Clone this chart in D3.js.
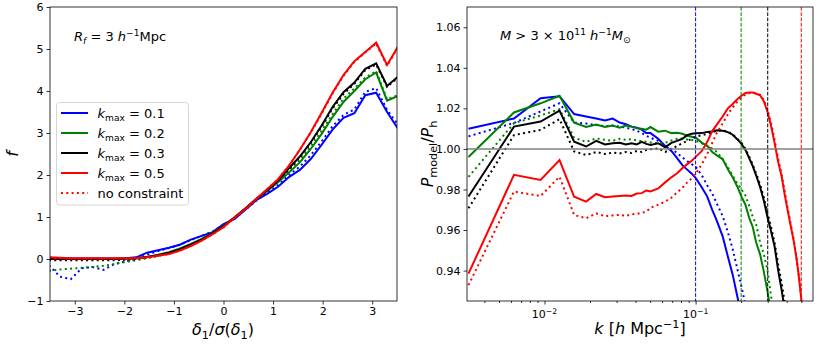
<!DOCTYPE html>
<html><head><meta charset="utf-8">
<script src="https://cdn.jsdelivr.net/npm/d3@7"></script>
<style>body{margin:0;background:#fff} svg{display:block} text{font-family:"DejaVu Sans",sans-serif}</style>
</head><body><svg id="c" width="830" height="346"></svg>
<script>
// ---------- left panel data ----------
const deltaBins = [-3.52,-3.30,-3.08,-2.86,-2.64,-2.42,-2.20,-1.98,-1.76,-1.54,-1.32,-1.10,-0.88,-0.66,-0.44,-0.22,0.00,0.22,0.44,0.66,0.88,1.10,1.32,1.54,1.76,1.98,2.20,2.42,2.64,2.86,3.08,3.30,3.52];
const fBlue   = [0.02,0.02,0.01,0.01,0.01,0.01,0.01,0.02,0.04,0.15,0.21,0.27,0.34,0.46,0.55,0.64,0.83,0.95,1.17,1.40,1.55,1.72,1.95,2.12,2.38,2.72,3.08,3.36,3.47,3.90,3.96,3.50,3.10];
const fBlueNC = [-0.15,-0.42,-0.48,-0.22,-0.19,-0.26,-0.12,-0.06,0.00,0.10,0.19,0.26,0.34,0.45,0.55,0.65,0.82,0.96,1.17,1.39,1.57,1.76,2.00,2.20,2.47,2.80,3.16,3.43,3.56,3.98,4.07,3.55,3.20];
const fGreen  = [0.0,0.0,0.0,0.0,0.0,0.0,0.0,0.01,0.02,0.05,0.10,0.16,0.25,0.36,0.48,0.62,0.79,0.99,1.20,1.43,1.62,1.83,2.06,2.30,2.62,2.98,3.38,3.74,4.00,4.28,4.44,3.77,3.88];
const fGreenNC= [-0.28,-0.25,-0.23,-0.21,-0.19,-0.16,-0.12,-0.07,-0.03,0.02,0.07,0.15,0.24,0.35,0.47,0.62,0.79,0.99,1.20,1.43,1.63,1.85,2.10,2.36,2.68,3.05,3.45,3.82,4.06,4.32,4.47,3.80,3.90];
const fBlack  = [0.0,0.0,0.0,0.0,0.0,0.0,0.0,0.01,0.02,0.05,0.09,0.15,0.23,0.34,0.46,0.61,0.78,0.99,1.20,1.43,1.64,1.87,2.16,2.44,2.78,3.18,3.62,3.97,4.20,4.53,4.66,4.12,4.34];
const fBlackNC= [-0.03,-0.03,-0.03,-0.03,-0.03,-0.03,-0.03,-0.02,0.00,0.04,0.08,0.14,0.22,0.33,0.45,0.60,0.77,0.98,1.19,1.42,1.63,1.86,2.14,2.42,2.76,3.15,3.58,3.93,4.17,4.50,4.63,4.10,4.32];
const fRed    = [0.04,0.03,0.02,0.02,0.02,0.02,0.02,0.02,0.02,0.04,0.08,0.12,0.20,0.31,0.44,0.59,0.76,0.98,1.19,1.43,1.66,1.90,2.22,2.60,3.02,3.48,3.96,4.38,4.71,4.93,5.15,4.62,5.06];
const fRedNC  = [0.02,0.01,0.01,0.01,0.01,0.01,0.01,0.01,0.02,0.04,0.08,0.12,0.20,0.31,0.44,0.59,0.76,0.98,1.19,1.43,1.66,1.90,2.22,2.60,3.01,3.46,3.94,4.36,4.69,4.92,5.13,4.60,5.04];

// ---------- right panel data ----------
const kVals = [0.00314,0.00628,0.00942,0.01257,0.01571,0.01885,0.02199,0.02513,0.02827,0.03142,0.03456,0.0377,0.04084,0.04398,0.04712,0.05027,0.05655,0.06283,0.06912,0.0754,0.08168,0.08796,0.09425,0.1005,0.1100,0.1194,0.1288,0.1382,0.1508,0.1634,0.1759,0.1885,0.2011,0.2136,0.2262,0.2388,0.2513,0.2670,0.2827,0.2985,0.3142,0.3330,0.3519,0.3707,0.3896,0.4084,0.4273,0.4461,0.4650,0.4838,0.5027,0.5215];
const rBlue   = [1.0100,1.0150,1.0250,1.0260,1.0172,1.0160,1.0150,1.0140,1.0150,1.0130,1.0122,1.0110,1.0105,1.0095,1.0078,1.0078,1.0050,1.0015,0.9990,0.9955,0.9920,0.9898,0.9878,0.9855,0.9810,0.9765,0.9700,0.9645,0.9570,0.9470,0.9380,0.9275,0.9180];
const rBlueNC = [1.0062,1.0128,1.0185,1.0225,1.0130,1.0125,1.0118,1.0112,1.0115,1.0110,1.0105,1.0098,1.0090,1.0078,1.0065,1.0055,1.0040,1.0018,1.0000,0.9980,0.9958,0.9940,0.9925,0.9910,0.9870,0.9820,0.9780,0.9730,0.9670,0.9590,0.9505,0.9410,0.9320,0.9230];
const rGreen  = [0.9960,1.0180,1.0225,1.0262,1.0130,1.0108,1.0120,1.0108,1.0115,1.0105,1.0115,1.0110,1.0102,1.0100,1.0095,1.0108,1.0085,1.0090,1.0078,1.0080,1.0075,1.0065,1.0060,1.0055,1.0030,1.0015,0.9985,0.9968,0.9950,0.9900,0.9860,0.9815,0.9765,0.9725,0.9660,0.9615,0.9540,0.9480,0.9395,0.9300,0.9200];
const rGreenNC= [0.9862,1.0127,1.0165,1.0196,1.0055,1.0035,1.0052,1.0045,1.0040,1.0050,1.0045,1.0048,1.0042,1.0038,1.0035,1.0032,1.0028,1.0030,1.0042,1.0050,1.0052,1.0046,1.0044,1.0040,1.0028,1.0015,1.0002,0.9985,0.9950,0.9910,0.9868,0.9830,0.9800,0.9770,0.9720,0.9665,0.9628,0.9540,0.9480,0.9405,0.9285,0.9170];
const rBlack  = [0.9765,1.0110,1.0135,1.0189,1.0036,1.0012,1.0040,1.0022,1.0028,1.0030,1.0022,1.0028,1.0022,1.0035,1.0025,1.0020,1.0028,1.0008,1.0030,1.0040,1.0050,1.0068,1.0075,1.0077,1.0078,1.0084,1.0086,1.0092,1.0090,1.0083,1.0070,1.0048,1.0025,0.9995,0.9955,0.9915,0.9870,0.9812,0.9745,0.9665,0.9600,0.9520,0.9400,0.9305,0.9200];
const rBlackNC= [0.9707,1.0068,1.0094,1.0147,0.9988,0.9970,0.9985,0.9975,0.9982,0.9978,0.9985,0.9980,0.9990,0.9985,0.9995,0.9998,1.0003,0.9985,0.9998,1.0015,1.0028,1.0040,1.0050,1.0060,1.0068,1.0075,1.0082,1.0090,1.0092,1.0085,1.0072,1.0050,1.0030,1.0000,0.9962,0.9922,0.9880,0.9825,0.9760,0.9685,0.9620,0.9540,0.9430,0.9340,0.9240,0.9150];
const rRed    = [0.9385,0.9872,0.9847,0.9945,0.9764,0.9740,0.9778,0.9762,0.9765,0.9768,0.9770,0.9768,0.9780,0.9782,0.9795,0.9790,0.9805,0.9835,0.9860,0.9880,0.9905,0.9925,0.9942,0.9962,0.9990,1.0035,1.0088,1.0120,1.0160,1.0200,1.0222,1.0245,1.0262,1.0276,1.0278,1.0278,1.0272,1.0265,1.0235,1.0185,1.0120,1.0030,0.9935,0.9865,0.9770,0.9690,0.9615,0.9545,0.9460,0.9360,0.9245,0.9130];
const rRedNC  = [0.9328,0.9790,0.9768,0.9863,0.9674,0.9658,0.9682,0.9668,0.9672,0.9675,0.9670,0.9678,0.9680,0.9685,0.9690,0.9710,0.9725,0.9740,0.9760,0.9785,0.9808,0.9835,0.9855,0.9880,0.9925,0.9975,1.0030,1.0080,1.0125,1.0170,1.0205,1.0232,1.0255,1.0268,1.0275,1.0278,1.0275,1.0268,1.0240,1.0195,1.0135,1.0045,0.9950,0.9875,0.9785,0.9700,0.9625,0.9550,0.9465,0.9365,0.9250,0.9140];
const kMax = [0.1, 0.2, 0.3, 0.5];
const kMaxLabels = ["0.1", "0.2", "0.3", "0.5"];
const colors = ["#0000ff", "#008000", "#000000", "#ff0000"];

const leftTicksX = [-3,-2,-1,0,1,2,3];
const leftTicksY = [-1,0,1,2,3,4,5,6];
const rightTicksY = [0.94,0.96,0.98,1.00,1.02,1.04,1.06];
const rightMajorX = [0.01, 0.1];
const rightMajorLabels = [["10","\u22122"],["10","\u22121"]];
const rightMinorX = [0.004,0.005,0.006,0.007,0.008,0.009,0.02,0.03,0.04,0.05,0.06,0.07,0.08,0.09,0.2,0.3,0.4,0.5];

const svg = d3.select("#c");
const FONT = "DejaVu Sans";

function mtext(g, x, y, parts, size, anchor, rot) {
  const t = g.append("text").attr("x", x).attr("y", y).attr("font-size", size)
    .attr("text-anchor", anchor || "start").attr("fill", "#000");
  if (rot) t.attr("transform", `rotate(${rot},${x},${y})`);
  let cur = 0;
  parts.forEach(([s, f]) => {
    f = f || "";
    const shift = f.includes("b") ? size * 0.24 : f.includes("p") ? -size * 0.38 : 0;
    const ts = t.append("tspan").text(s).attr("dy", shift - cur);
    cur = shift;
    if (f.includes("i")) ts.attr("font-style", "italic");
    if (shift !== 0) ts.attr("font-size", size * 0.7);
  });
  return t;
}

// ---------- LEFT PANEL ----------
const L = {x0: 50, x1: 397, y0: 7, y1: 301};
const xL = d3.scaleLinear().domain([-3.5, 3.5]).range([L.x0, L.x1]);
const yL = d3.scaleLinear().domain([-1, 6]).range([L.y1, L.y0]);
svg.append("clipPath").attr("id", "clipL").append("rect")
  .attr("x", L.x0).attr("y", L.y0).attr("width", L.x1 - L.x0).attr("height", L.y1 - L.y0);
const gL = svg.append("g").attr("clip-path", "url(#clipL)");
const lineL = d3.line().x((d, i) => xL(deltaBins[i])).y(d => yL(d));
const leftSeries = [[fBlue, fBlueNC], [fGreen, fGreenNC], [fBlack, fBlackNC], [fRed, fRedNC]];
leftSeries.forEach(([s, nc], i) => {
  gL.append("path").attr("d", lineL(s)).attr("fill", "none").attr("stroke", colors[i]).attr("stroke-width", 2);
  gL.append("path").attr("d", lineL(nc)).attr("fill", "none").attr("stroke", colors[i]).attr("stroke-width", 2)
    .attr("stroke-dasharray", "2,3.3");
});

function styleAxis(g) {
  g.select(".domain").remove();
  g.selectAll("text").attr("font-size", 11).attr("font-family", FONT).attr("fill", "#000");
  g.selectAll("line").attr("stroke", "#000").attr("stroke-width", 0.8);
}
svg.append("g").attr("transform", `translate(0,${L.y1})`)
  .call(d3.axisBottom(xL).tickValues(leftTicksX).tickSize(3.5).tickPadding(3).tickFormat(d3.format("d"))).call(styleAxis);
svg.append("g").attr("transform", `translate(${L.x0},0)`)
  .call(d3.axisLeft(yL).tickValues(leftTicksY).tickSize(3.5).tickPadding(3).tickFormat(d3.format("d"))).call(styleAxis);
svg.append("rect").attr("x", L.x0).attr("y", L.y0).attr("width", L.x1 - L.x0).attr("height", L.y1 - L.y0)
  .attr("fill", "none").attr("stroke", "#000").attr("stroke-width", 0.8);

mtext(svg, 74, 41, [["R","i"],["f","ib"],[" = 3 "],["h","i"],["\u22121","p"],["Mpc"]], 13);
mtext(svg, 18, 154, [["f","i"]], 16, "middle", -90);
mtext(svg, 223, 335, [["\u03b4","i"],["1","b"],["/"],["\u03c3","i"],["("],["\u03b4","i"],["1","b"],[")"]], 16, "middle");

// legend
const leg = svg.append("g");
leg.append("rect").attr("x", 56.5).attr("y", 102.5).attr("width", 132).attr("height", 102.5).attr("rx", 3)
  .attr("fill", "#fff").attr("fill-opacity", 0.8).attr("stroke", "#cccccc").attr("stroke-width", 0.8);
kMaxLabels.forEach((lab, i) => {
  const yy = 113 + i * 20;
  leg.append("line").attr("x1", 61).attr("x2", 88).attr("y1", yy).attr("y2", yy)
    .attr("stroke", colors[i]).attr("stroke-width", 2);
  mtext(leg, 97.5, yy + 4.5, [["k","i"],["max","b"],[" = " + lab]], 13);
});
leg.append("line").attr("x1", 61).attr("x2", 88).attr("y1", 193).attr("y2", 193)
  .attr("stroke", colors[3]).attr("stroke-width", 2).attr("stroke-dasharray", "2,3.3");
mtext(leg, 97.5, 197.5, [["no constraint"]], 13);

// ---------- RIGHT PANEL ----------
const R = {x0: 467, x1: 813, y0: 7, y1: 301};
const xR = d3.scaleLog().domain([0.00307, 0.598]).range([R.x0, R.x1]);
const yR = d3.scaleLinear().domain([0.925, 1.07]).range([R.y1, R.y0]);
svg.append("clipPath").attr("id", "clipR").append("rect")
  .attr("x", R.x0).attr("y", R.y0).attr("width", R.x1 - R.x0).attr("height", R.y1 - R.y0);
const gR = svg.append("g").attr("clip-path", "url(#clipR)");
const lineR = d3.line().x((d, i) => xR(kVals[i])).y(d => yR(d));
const rightSeries = [[rBlue, rBlueNC], [rGreen, rGreenNC], [rBlack, rBlackNC], [rRed, rRedNC]];
rightSeries.forEach(([s, nc], i) => {
  gR.append("path").attr("d", lineR(s)).attr("fill", "none").attr("stroke", colors[i]).attr("stroke-width", 2);
  gR.append("path").attr("d", lineR(nc)).attr("fill", "none").attr("stroke", colors[i]).attr("stroke-width", 2)
    .attr("stroke-dasharray", "2,3.3");
});
gR.append("line").attr("x1", R.x0).attr("x2", R.x1).attr("y1", yR(1)).attr("y2", yR(1))
  .attr("stroke", "#808080").attr("stroke-width", 1.5);
kMax.forEach((k, i) => {
  gR.append("line").attr("x1", xR(k)).attr("x2", xR(k)).attr("y1", R.y0).attr("y2", R.y1)
    .attr("stroke", colors[i]).attr("stroke-width", 1).attr("stroke-dasharray", "3.7,1.6");
});

svg.append("g").attr("transform", `translate(0,${R.y1})`)
  .call(d3.axisBottom(xR).tickValues(rightMajorX).tickSize(3.5).tickFormat("")).call(styleAxis);
svg.append("g").attr("transform", `translate(0,${R.y1})`)
  .call(d3.axisBottom(xR).tickValues(rightMinorX).tickSize(2).tickFormat("")).call(styleAxis);
rightMajorX.forEach((k, i) => {
  mtext(svg, xR(k), 318, [[rightMajorLabels[i][0]], [rightMajorLabels[i][1], "p"]], 11, "middle");
});
svg.append("g").attr("transform", `translate(${R.x0},0)`)
  .call(d3.axisLeft(yR).tickValues(rightTicksY).tickSize(3.5).tickPadding(3).tickFormat(d3.format(".2f"))).call(styleAxis);
svg.append("rect").attr("x", R.x0).attr("y", R.y0).attr("width", R.x1 - R.x0).attr("height", R.y1 - R.y0)
  .attr("fill", "none").attr("stroke", "#000").attr("stroke-width", 0.8);

mtext(svg, 500, 40, [["M","i"],[" > 3 \u00d7 10"],["11","p"],[" "],["h","i"],["\u22121","p"],["M","i"],["\u2299","b"]], 13);
mtext(svg, 433, 154, [["P","i"],["model","b"],["/"],["P","i"],["h","b"]], 16, "middle", -90);
mtext(svg, 640, 334, [["k","i"],[" ["],["h","i"],[" Mpc"],["\u22121","p"],["]"]], 16, "middle");
</script></body></html>
